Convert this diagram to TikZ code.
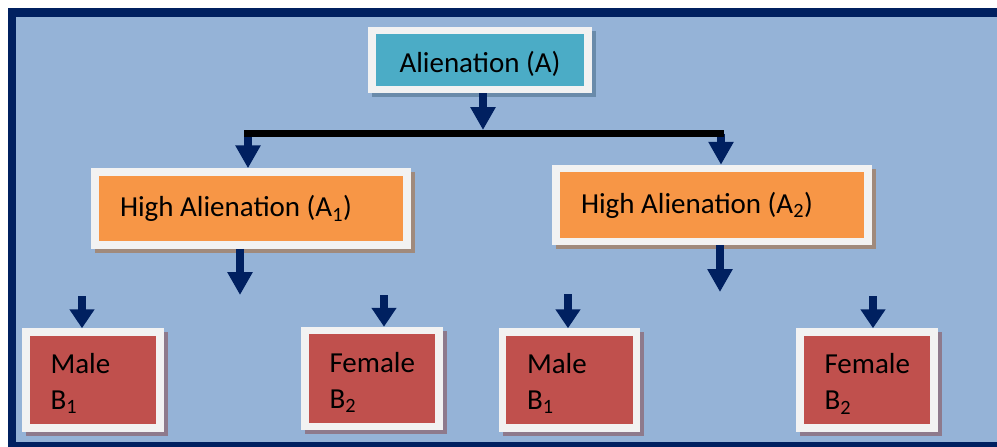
\documentclass[tikz,border=0pt]{standalone}
\usepackage{fontspec}
\setmainfont{Carlito}
\usepackage{tikz}
\usetikzlibrary{arrows.meta}

\definecolor{pagebg}{HTML}{95B3D7}
\definecolor{navy}{HTML}{002060}
\definecolor{framewhite}{HTML}{F2F2F2}
\definecolor{aqua}{HTML}{4BACC6}
\definecolor{orng}{HTML}{F79646}
\definecolor{rust}{HTML}{C0504D}
\definecolor{aquashadow}{HTML}{6A8BAA}
\definecolor{orngshadow}{HTML}{A08A7C}
\definecolor{rustshadow}{HTML}{8E7A8C}

\begin{document}
\begin{tikzpicture}[
  x=1pt, y=-1pt,
  cell/.style={draw=framewhite, line width=7.5pt, fill=#1, font=\fontsize{29}{36}\selectfont, inner sep=0pt},
  boxshadow/.style={preaction={draw=#1, fill=#1, transform canvas={xshift=4pt, yshift=-4pt}}},
  topbox/.style={cell=aqua, boxshadow=aquashadow, minimum width=216pt, minimum height=59pt, text height=30pt, text depth=6pt},
  midbox/.style={cell=orng, boxshadow=orngshadow, minimum width=312pt, minimum height=73pt, text width=262pt, align=flush left},
  leafbox/.style={cell=rust, boxshadow=rustshadow, minimum width=134pt, minimum height=96pt, text width=85pt, align=flush left, text height=29pt, text depth=42pt},
  blockarrow/.style={draw=navy, line width=8pt, -{Triangle[width=24pt, length=#1]}},
  blockarrow/.default=23pt
]
\useasboundingbox (0,0) rectangle (997,447);
\fill[white] (0,0) rectangle (997,447);
\fill[navy] (8,8) rectangle (997,447);
\fill[pagebg] (16,17) rectangle (997,442);

\node[topbox] (alien) at (480,60) {Alienation (A)};
\node[midbox] (high1) at (251,208.5) {High Alienation (A\textsubscript{1})};
\node[midbox] (high2) at (712,205) {High Alienation (A\textsubscript{2})};
\node[leafbox] (male1) at (93,380) {Male\\B\textsubscript{1}};
\node[leafbox] (female1) at (372,378.5) {Female\\B\textsubscript{2}};
\node[leafbox] (male2) at (569.5,380) {Male\\B\textsubscript{1}};
\node[leafbox] (female2) at (867,380) {Female\\B\textsubscript{2}};

\coordinate (hub) at (483,130);
\coordinate (barL) at (244,133.5);
\coordinate (barR) at (724,133.5);
\coordinate (split1) at (248,133.5);
\coordinate (split2) at (721,133.5);
\coordinate (drop1) at (240,295);
\coordinate (drop2) at (720,292);
\coordinate (in11) at (82,296);
\coordinate (in12) at (384,295);
\coordinate (in21) at (568,294);
\coordinate (in22) at (873,296);

\draw[blockarrow] (alien.south -| hub) -- (hub);
\draw[blockarrow] (split1) -- (split1 |- high1.north);
\draw[blockarrow] (split2) -- (split2 |- high2.north);
\draw[line width=7pt] (barL) -- (barR);
\draw[blockarrow] (high1.south -| drop1) -- (drop1);
\draw[blockarrow] (high2.south -| drop2) -- (drop2);
\draw[blockarrow=19pt] (in11) -- (in11 |- male1.north);
\draw[blockarrow=19pt] (in12) -- (in12 |- female1.north);
\draw[blockarrow=19pt] (in21) -- (in21 |- male2.north);
\draw[blockarrow=19pt] (in22) -- (in22 |- female2.north);
\end{tikzpicture}
\end{document}
